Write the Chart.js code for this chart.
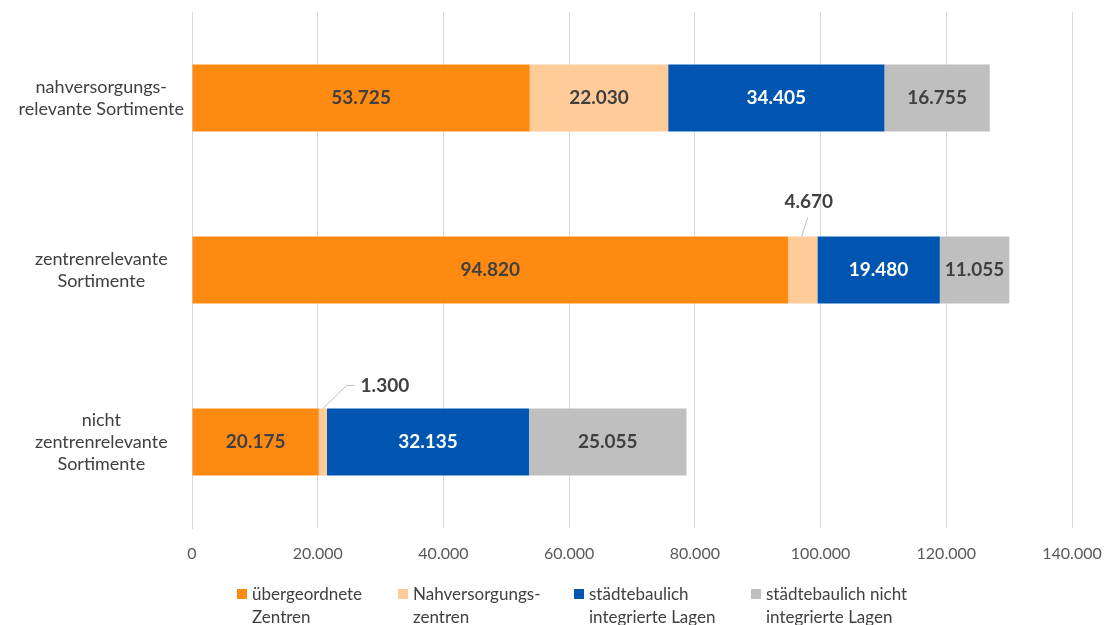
<!DOCTYPE html>
<html lang="de">
<head>
    <meta charset="UTF-8">
    <title>Verkaufsflächen nach Sortimenten und Lagen</title>
    <script src="https://cdn.jsdelivr.net/npm/chart.js"></script>
    <style>
        body {
            margin: 0;
            background: #ffffff;
            font-family: Lato, Arial, sans-serif;
        }
        .wrap {
            position: relative;
            width: 1107px;
            height: 625px;
        }
        #legend {
            position: absolute;
            left: 237px;
            top: 582px;
            display: flex;
            font-size: 17px;
            line-height: 23px;
            color: #404040;
        }
        #legend .item {
            display: flex;
            align-items: flex-start;
        }
        #legend .box {
            width: 10px;
            height: 10px;
            margin: 7px 5px 0 0;
            flex: none;
        }
    </style>
</head>
<body>
<div class="wrap">
    <canvas id="chart" width="1107" height="625"></canvas>
    <div id="legend"></div>
</div>
<script>
    // Kategorien (y-Achse), mehrzeilig
    const categories = [
        ['nahversorgungs-', 'relevante Sortimente'],
        ['zentrenrelevante', 'Sortimente'],
        ['nicht', 'zentrenrelevante', 'Sortimente']
    ];

    // Verkaufsfläche in m² je Lage
    const uebergeordnete = [53725, 94820, 20175];
    const nahversorgung = [22030, 4670, 1300];
    const integriert = [34405, 19480, 32135];
    const nichtIntegriert = [16755, 11055, 25055];

    const seriesNames = [
        ['übergeordnete', 'Zentren'],
        ['Nahversorgungs-', 'zentren'],
        ['städtebaulich', 'integrierte Lagen'],
        ['städtebaulich nicht', 'integrierte Lagen']
    ];
    const seriesColors = ['#FF8A11', '#FFCC99', '#0055B0', '#BFBFBF'];
    const labelColors = ['#404040', '#404040', '#ffffff', '#404040'];

    const xTicks = [0, 20000, 40000, 60000, 80000, 100000, 120000, 140000];

    const fmt = v => v.toLocaleString('de-DE');

    // small segments get their label pulled out with a leader line
    const callouts = {
        '1-1': { dx: 6, dy: -35, elbow: false },
        '1-2': { dx: 62, dy: -23, elbow: true }
    };

    const valueLabels = {
        id: 'valueLabels',
        afterDatasetsDraw(chart) {
            const ctx = chart.ctx;
            ctx.save();
            ctx.font = 'bold 19px Lato, Arial, sans-serif';
            ctx.textBaseline = 'middle';
            ctx.textAlign = 'center';
            chart.data.datasets.forEach((ds, di) => {
                chart.getDatasetMeta(di).data.forEach((bar, i) => {
                    const cx = (bar.x + bar.base) / 2;
                    const text = fmt(ds.data[i]);
                    const c = callouts[di + '-' + i];
                    if (c) {
                        const top = bar.y - bar.height / 2;
                        const lx = cx + c.dx;
                        const ly = top + c.dy;
                        ctx.strokeStyle = '#BFBFBF';
                        ctx.lineWidth = 1;
                        ctx.beginPath();
                        if (c.elbow) {
                            const w = ctx.measureText(text).width;
                            ctx.moveTo(cx, top);
                            ctx.lineTo(lx - w / 2 - 14, ly);
                            ctx.lineTo(lx - w / 2 - 6, ly);
                        } else {
                            ctx.moveTo(cx - 1, top);
                            ctx.lineTo(cx + 5, top - 19);
                        }
                        ctx.stroke();
                        ctx.fillStyle = '#404040';
                        ctx.fillText(text, lx, ly);
                    } else {
                        ctx.fillStyle = labelColors[di];
                        ctx.fillText(text, cx, bar.y);
                    }
                });
            });
            ctx.restore();
        }
    };

    const data = {
        labels: categories,
        datasets: [uebergeordnete, nahversorgung, integriert, nichtIntegriert].map((vals, k) => ({
            label: seriesNames[k].join(' '),
            data: vals,
            backgroundColor: seriesColors[k],
            borderWidth: 0,
            categoryPercentage: 1,
            barPercentage: 0.39
        }))
    };

    const chart = new Chart(document.getElementById('chart'), {
        type: 'bar',
        data: data,
        options: {
            indexAxis: 'y',
            responsive: false,
            animation: false,
            layout: { padding: { top: 12, right: 35, left: 0, bottom: 0 } },
            plugins: {
                legend: { display: false },
                tooltip: { enabled: false }
            },
            scales: {
                x: {
                    stacked: true,
                    min: 0,
                    max: 140000,
                    afterBuildTicks: scale => { scale.ticks = xTicks.map(v => ({ value: v })); },
                    afterFit: scale => {
                        scale.height = 97;
                        scale.paddingLeft = 0;
                        scale.paddingRight = 0;
                    },
                    grid: { color: '#D9D9D9', tickLength: 0, drawTicks: false },
                    border: { display: false },
                    ticks: {
                        padding: 16,
                        color: '#595959',
                        font: { family: 'Lato', size: 16 },
                        callback: v => fmt(v)
                    }
                },
                y: {
                    stacked: true,
                    afterFit: scale => {
                        scale.width = 192;
                        scale.paddingTop = 0;
                        scale.paddingBottom = 0;
                    },
                    grid: { display: false },
                    border: { display: true, color: '#D9D9D9' },
                    ticks: {
                        crossAlign: 'center',
                        padding: 0,
                        color: '#404040',
                        font: { family: 'Lato', size: 18, lineHeight: 1.22 }
                    }
                }
            }
        },
        plugins: [valueLabels]
    });

    // Legende unten, zweizeilig wie im Original
    const legendWidths = [161, 176, 177, 180];
    const legend = document.getElementById('legend');
    chart.data.datasets.forEach((ds, k) => {
        const item = document.createElement('div');
        item.className = 'item';
        item.style.width = legendWidths[k] + 'px';
        item.innerHTML = '<span class="box" style="background:' + ds.backgroundColor + '"></span>' +
            '<span>' + seriesNames[k].join('<br>') + '</span>';
        legend.appendChild(item);
    });
</script>
</body>
</html>
